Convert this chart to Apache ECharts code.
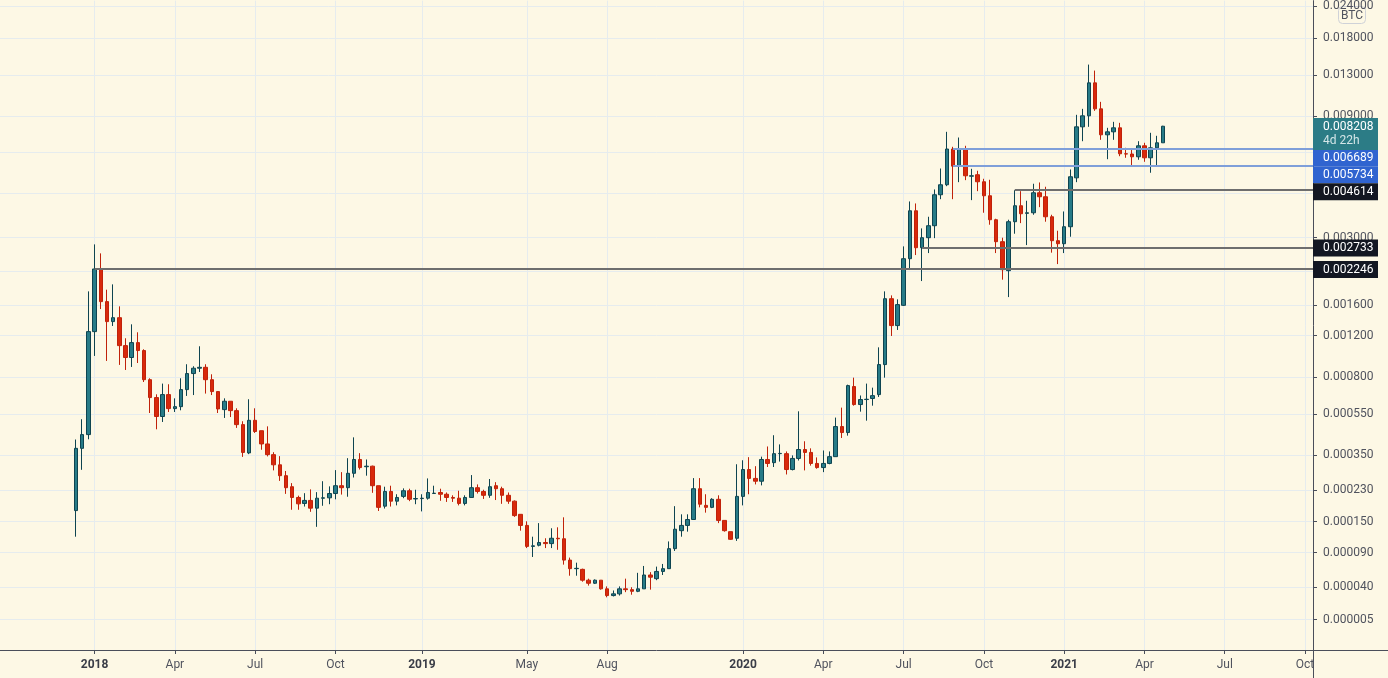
<!DOCTYPE html>
<html>
<head>
<meta charset="utf-8">
<script src="https://cdn.jsdelivr.net/npm/echarts@6/dist/echarts.min.js"></script>
<style>
  html, body { margin: 0; padding: 0; background: #fdf8e5; }
  #chart { width: 1388px; height: 678px; }
</style>
</head>
<body>
<div id="chart"></div>
<script>
// weekly candles, first one starts on this Monday
var firstWeek = '2017-12-11';

var opens = [
  0.000176, 0.000379, 0.000441, 0.001247, 0.002246, 0.001657, 0.001372, 0.001424, 0.00109, 0.000971,
  0.001122, 0.001039, 0.00078, 0.000651, 0.000535, 0.000671, 0.000581, 0.000593, 0.000706, 0.000829,
  0.000874, 0.000882, 0.00078, 0.000692, 0.000575, 0.000627, 0.000569, 0.000491, 0.00036, 0.000514,
  0.00046, 0.000398, 0.000353, 0.000314, 0.000276, 0.000241, 0.00021, 0.000194, 0.000202, 0.000182,
  0.000208, 0.000209, 0.000221, 0.000244, 0.000238, 0.000284, 0.000334, 0.000307, 0.000309, 0.000244,
  0.000187, 0.000227, 0.0002, 0.000213, 0.000229, 0.000206, 0.000207, 0.000208, 0.000221, 0.000224,
  0.000219, 0.00021, 0.000208, 0.000194, 0.00021, 0.000238, 0.000227, 0.000216, 0.000244, 0.000235,
  0.000216, 0.0002, 0.000167, 0.000142, 0.000101, 0.000103, 0.000108, 0.000106, 0.000116, 0.000115,
  0.000078, 0.000065, 0.000064, 0.000049, 0.000045, 0.000049, 0.000038, 0.00003, 0.000032, 0.000038,
  0.000037, 0.000035, 0.000038, 0.000056, 0.000051, 0.000061, 0.000065, 0.000097, 0.000131, 0.000142,
  0.000155, 0.000235, 0.000189, 0.000184, 0.000205, 0.000153, 0.000129, 0.000116, 0.000213, 0.000297,
  0.000267, 0.000258, 0.000334, 0.000322, 0.000357, 0.000357, 0.000297, 0.000338, 0.000374, 0.000362,
  0.000319, 0.000304, 0.000319, 0.000345, 0.000481, 0.000451, 0.000728, 0.000606, 0.000638, 0.000645,
  0.000671, 0.000906, 0.001703, 0.001321, 0.0016, 0.00247, 0.003829, 0.002733, 0.002995, 0.003342,
  0.004428, 0.004847, 0.006689, 0.005734, 0.006702, 0.005237, 0.005307, 0.00498, 0.004388, 0.003529,
  0.002888, 0.002211, 0.003466, 0.004008, 0.00374, 0.00376, 0.004509, 0.004348, 0.003626, 0.002914,
  0.002835, 0.003311, 0.00516, 0.008164, 0.00901, 0.0121, 0.00959, 0.0076, 0.007807, 0.008092,
  0.006409, 0.006395, 0.006238, 0.006886, 0.006182, 0.006763, 0.007075
];
var highs = [
  0.000418, 0.00052, 0.001824, 0.002817, 0.002594, 0.001853, 0.001947, 0.001585, 0.00117, 0.001337,
  0.001239, 0.001052, 0.000791, 0.000673, 0.00075, 0.000745, 0.000646, 0.000791, 0.000909, 0.000891,
  0.001083, 0.000909, 0.000823, 0.000692, 0.000646, 0.000627, 0.000583, 0.000509, 0.00064, 0.000583,
  0.00046, 0.000482, 0.000363, 0.000347, 0.000292, 0.000252, 0.000215, 0.000222, 0.000233, 0.000225,
  0.000258, 0.000242, 0.000295, 0.000288, 0.000339, 0.000428, 0.000359, 0.000334, 0.000311, 0.000244,
  0.000241, 0.000244, 0.000219, 0.000236, 0.000235, 0.000232, 0.000219, 0.000267, 0.000244, 0.000235,
  0.000224, 0.000216, 0.000229, 0.000216, 0.000278, 0.000248, 0.000232, 0.000265, 0.000255, 0.000241,
  0.000224, 0.000202, 0.000167, 0.000151, 0.000119, 0.000147, 0.000116, 0.000136, 0.000138, 0.00016,
  0.000082, 0.000074, 0.000065, 0.000051, 0.00005, 0.000049, 0.000041, 0.000036, 0.000041, 0.000051,
  0.00004, 0.000059, 0.000069, 0.00006, 0.000068, 0.000072, 0.00011, 0.000187, 0.000167, 0.000167,
  0.000268, 0.000268, 0.000219, 0.000208, 0.000216, 0.000153, 0.000129, 0.000316, 0.000331, 0.000343,
  0.000309, 0.000345, 0.000387, 0.000438, 0.000396, 0.000366, 0.00035, 0.000565, 0.00041, 0.000379,
  0.000342, 0.00037, 0.000366, 0.000529, 0.000587, 0.000742, 0.000796, 0.000665, 0.00075, 0.00072,
  0.001072, 0.001824, 0.001757, 0.001693, 0.002766, 0.004167, 0.004092, 0.003261, 0.003626, 0.004646,
  0.005614, 0.007807, 0.006824, 0.007418, 0.006886, 0.005598, 0.005499, 0.005116, 0.00507, 0.003561,
  0.002995, 0.003529, 0.004614, 0.004574, 0.004193, 0.004892, 0.004949, 0.00476, 0.003693, 0.003192,
  0.003805, 0.005564, 0.009091, 0.009591, 0.014243, 0.013501, 0.010211, 0.008092, 0.008538, 0.008463,
  0.006763, 0.006702, 0.007176, 0.007075, 0.007738, 0.007532, 0.008238
];
var lows = [
  0.000119, 0.000296, 0.000419, 0.000986, 0.001545, 0.000939, 0.001316, 0.000903, 0.000859, 0.000885,
  0.00092, 0.000762, 0.000555, 0.000467, 0.000505, 0.000561, 0.000561, 0.000571, 0.000662, 0.000668,
  0.000842, 0.000678, 0.000668, 0.000555, 0.000527, 0.000532, 0.000474, 0.000344, 0.000355, 0.000449,
  0.000373, 0.000346, 0.000294, 0.000259, 0.00022, 0.000178, 0.000178, 0.000186, 0.000173, 0.000139,
  0.000188, 0.000192, 0.000205, 0.000218, 0.000212, 0.00027, 0.000297, 0.000276, 0.000223, 0.000175,
  0.000181, 0.000186, 0.000189, 0.000208, 0.0002, 0.000192, 0.000174, 0.000204, 0.00022, 0.000201,
  0.000198, 0.000198, 0.000189, 0.000189, 0.00021, 0.000221, 0.000206, 0.000209, 0.000203, 0.000193,
  0.000193, 0.000161, 0.000131, 0.000098, 0.000083, 0.000101, 0.000098, 0.000098, 0.000095, 0.000071,
  0.000055, 0.000055, 0.000047, 0.000042, 0.000044, 0.000037, 0.000028, 0.000029, 0.00003, 0.000034,
  0.000031, 0.000034, 0.000038, 0.000037, 0.000049, 0.000056, 0.000065, 0.000093, 0.000119, 0.000129,
  0.000155, 0.000184, 0.000171, 0.000182, 0.000147, 0.000129, 0.000113, 0.000111, 0.000189, 0.000219,
  0.000248, 0.000245, 0.000306, 0.000306, 0.000326, 0.00028, 0.000294, 0.00033, 0.000294, 0.000311,
  0.0003, 0.000288, 0.000316, 0.000345, 0.000425, 0.000436, 0.000599, 0.000563, 0.000512, 0.000599,
  0.000655, 0.000796, 0.001196, 0.001267, 0.00159, 0.002224, 0.002554, 0.002008, 0.002601, 0.002983,
  0.004254, 0.004786, 0.004254, 0.004962, 0.005053, 0.004217, 0.004574, 0.003761, 0.003372, 0.002601,
  0.002034, 0.001729, 0.003106, 0.003422, 0.002799, 0.003693, 0.003957, 0.003466, 0.002611, 0.00235,
  0.002601, 0.003022, 0.004962, 0.007176, 0.008164, 0.009421, 0.007266, 0.006104, 0.007266, 0.006271,
  0.006182, 0.0057, 0.006072, 0.005963, 0.005402, 0.005752, 0.007075
];
var closes = [
  0.000379, 0.000441, 0.001247, 0.002246, 0.001657, 0.001372, 0.001424, 0.00109, 0.000971, 0.001122,
  0.001039, 0.00078, 0.000651, 0.000535, 0.000671, 0.000581, 0.000593, 0.000706, 0.000829, 0.000874,
  0.000882, 0.00078, 0.000692, 0.000579, 0.000627, 0.000569, 0.000491, 0.000362, 0.000514, 0.000456,
  0.000398, 0.000353, 0.000314, 0.000276, 0.000238, 0.00021, 0.000193, 0.000202, 0.000182, 0.000208,
  0.000209, 0.000221, 0.000244, 0.000238, 0.000284, 0.000334, 0.000304, 0.000309, 0.000244, 0.000184,
  0.000227, 0.0002, 0.00021, 0.000229, 0.000205, 0.000207, 0.000208, 0.000224, 0.000222, 0.000219,
  0.00021, 0.000208, 0.000194, 0.00021, 0.000238, 0.000227, 0.000216, 0.000241, 0.000235, 0.000216,
  0.0002, 0.000164, 0.000142, 0.000101, 0.000102, 0.000108, 0.000106, 0.000116, 0.000115, 0.000078,
  0.000065, 0.0000655, 0.000049, 0.000045, 0.000049, 0.000038, 0.00003, 0.000032, 0.000038, 0.000037,
  0.000035, 0.000038, 0.000056, 0.000053, 0.000061, 0.000065, 0.000097, 0.000134, 0.000142, 0.000155,
  0.000235, 0.000192, 0.000184, 0.000205, 0.000153, 0.000131, 0.000114, 0.000213, 0.000297, 0.000267,
  0.000258, 0.000334, 0.000319, 0.000357, 0.000358, 0.000297, 0.000338, 0.000374, 0.000362, 0.000319,
  0.000304, 0.000319, 0.000345, 0.000481, 0.000451, 0.000735, 0.000606, 0.000638, 0.00064, 0.000664,
  0.000906, 0.001703, 0.001321, 0.001611, 0.00247, 0.003829, 0.002733, 0.002995, 0.003342, 0.004428,
  0.004847, 0.006689, 0.005734, 0.006702, 0.005257, 0.005257, 0.00498, 0.004388, 0.003529, 0.002888,
  0.002232, 0.003466, 0.004008, 0.003727, 0.00376, 0.004509, 0.004348, 0.003626, 0.002914, 0.002835,
  0.003311, 0.00521, 0.008164, 0.00901, 0.0121, 0.00959, 0.0076, 0.007807, 0.008092, 0.006409,
  0.006395, 0.006238, 0.006886, 0.006182, 0.006763, 0.007075, 0.008208
];

// price axis ticks
var priceTicks = [0.000005, 0.00004, 0.00009, 0.00015, 0.00023, 0.00035, 0.00055, 0.0008, 0.0012,
  0.0016, 0.0022, 0.003, 0.0045, 0.0065, 0.009, 0.013, 0.018, 0.024];
// time axis ticks (first weekly bar of the month)
var tickDates = ['2018-01-01', '2018-04-02', '2018-07-02', '2018-10-01', '2019-01-07', '2019-05-06',
  '2019-08-05', '2020-01-06', '2020-04-06', '2020-07-06', '2020-10-05', '2021-01-04', '2021-04-05',
  '2021-07-05', '2021-10-04'];
var tickLabels = ['2018', 'Apr', 'Jul', 'Oct', '2019', 'May', 'Aug', '2020', 'Apr', 'Jul', 'Oct',
  '2021', 'Apr', 'Jul', 'Oct'];

// horizontal levels drawn on the chart
var levelPrices = [0.006689, 0.005734, 0.004614, 0.002733, 0.002246];
var levelStarts = ['2020-08-31', '2020-08-31', '2020-11-09', '2020-07-27', '2018-01-01'];
var lastPrice = 0.008208;
var lastCountdown = '4d 22h';

// --- styling / layout ---
var levelLineColors = ['#7f9fd9', '#7f9fd9', '#6e6e6e', '#6e6e6e', '#6e6e6e'];
var levelBoxColors = ['#3064d0', '#3064d0', '#131722', '#131722', '#131722'];
var levelLabelNudge = [9.3, 9.1, 1.4, 0, 0.7];   // px downwards, labels pushed apart like the original
var lastLabelNudge = 8;

var WEEK = 7 * 24 * 3600 * 1000;
var BASE = Date.UTC(2018, 0, 1);
function weekOf(d) { return Math.round((Date.parse(d) - BASE) / WEEK); }

var SHIFT = 0.0001;          // log(price + shift) scale, like the source chart
function toAxis(p) { return Math.log(p + SHIFT); }
function fromAxis(v) { return Math.exp(v) - SHIFT; }

var Y_MIN = -9.43009, Y_MAX = -3.67788;
var X_MIN = -15.315, X_MAX = 197.29;
var PLOT_H = 650;
var PX_PER_UNIT = PLOT_H / (Y_MAX - Y_MIN);

var w0 = weekOf(firstWeek);
var candles = closes.map(function (c, i) {
  return [w0 + i, toAxis(opens[i]), toAxis(c), toAxis(lows[i]), toAxis(highs[i])];
});

var tickWeeks = tickDates.map(weekOf);
var labelOf = {};
tickWeeks.forEach(function (w, i) { labelOf[w] = tickLabels[i]; });

var FONT = 'Roboto, "Liberation Sans", sans-serif';
var NO_LINE = { color: 'rgba(0,0,0,0)', width: 1, type: 'solid' };
var boxLabel = {
  show: true, position: 'end', distance: 0, align: 'left',
  color: '#ffffff', fontSize: 12, fontFamily: FONT, lineHeight: 13,
  padding: [2, 7, 2, 10], width: 48
};

var markData = [];
levelPrices.forEach(function (p, k) {
  markData.push([
    { coord: [weekOf(levelStarts[k]), toAxis(p)], lineStyle: { color: levelLineColors[k], width: 2, type: 'solid' } },
    { coord: [X_MAX, toAxis(p)] }
  ]);
});
levelPrices.forEach(function (p, k) {
  markData.push({
    yAxis: toAxis(p) - levelLabelNudge[k] / PX_PER_UNIT,
    lineStyle: NO_LINE,
    label: Object.assign({}, boxLabel, { formatter: p.toFixed(6), backgroundColor: levelBoxColors[k] })
  });
});
markData.push({
  yAxis: toAxis(lastPrice) - lastLabelNudge / PX_PER_UNIT,
  lineStyle: NO_LINE,
  label: Object.assign({}, boxLabel, {
    formatter: '{a|' + lastPrice.toFixed(6) + '}\n{b|' + lastCountdown + '}',
    backgroundColor: '#2c7c86',
    rich: {
      a: { color: '#ffffff', fontSize: 12, fontFamily: FONT, lineHeight: 14 },
      b: { color: '#d4e6e8', fontSize: 12, fontFamily: FONT, lineHeight: 14 }
    }
  })
});

var chart = echarts.init(document.getElementById('chart'), null, { renderer: 'canvas' });
chart.setOption({
  animation: false,
  backgroundColor: '#fdf8e5',
  grid: { left: 0, right: 75, top: 0, bottom: 28, containLabel: false },
  xAxis: {
    type: 'value', min: X_MIN, max: X_MAX,
    axisLine: { show: true, onZero: false, lineStyle: { color: '#4a4e5a', width: 1 } },
    axisTick: { show: true, length: 4, customValues: tickWeeks, lineStyle: { color: '#4a4e5a' } },
    axisLabel: {
      customValues: tickWeeks, margin: 9, color: '#50535e', fontSize: 12, fontFamily: FONT,
      formatter: function (v) {
        var t = labelOf[Math.round(v)] || '';
        return /^\d{4}$/.test(t) ? '{y|' + t + '}' : t;
      },
      rich: { y: { fontWeight: 'bold', color: '#3a3d47', fontSize: 12, fontFamily: FONT } }
    },
    splitLine: { show: true, lineStyle: { color: '#e6ecee', width: 1 } }
  },
  yAxis: {
    type: 'value', position: 'right', min: Y_MIN, max: Y_MAX,
    axisLine: { show: true, onZero: false, lineStyle: { color: '#4a4e5a', width: 1 } },
    axisTick: { show: true, length: 4, customValues: priceTicks.map(toAxis), lineStyle: { color: '#4a4e5a' } },
    axisLabel: {
      customValues: priceTicks.map(toAxis), margin: 10, color: '#50535e', fontSize: 12, fontFamily: FONT,
      formatter: function (v) { return fromAxis(v).toFixed(6); }
    },
    splitLine: { show: true, lineStyle: { color: '#e6ecee', width: 1 } }
  },
  series: [{
    type: 'candlestick',
    data: candles,
    encode: { x: 0, y: [1, 2, 3, 4] },
    barWidth: 4,
    itemStyle: {
      color: '#277b87', color0: '#d8290b',
      borderColor: '#0e4450', borderColor0: '#c0220a', borderWidth: 1
    },
    markLine: {
      silent: true, symbol: 'none', animation: false, z: 10,
      label: { show: false },
      data: markData
    }
  }],
  graphic: [
    { type: 'line', shape: { x1: 1313, y1: 650.5, x2: 1388, y2: 650.5 }, style: { stroke: '#4a4e5a', lineWidth: 1 }, z: 50 },
    { type: 'line', shape: { x1: 1313.5, y1: 650, x2: 1313.5, y2: 678 }, style: { stroke: '#4a4e5a', lineWidth: 1 }, z: 50 },
    {
      type: 'group', left: 1338, top: 6, z: 100,
      children: [
        { type: 'rect', shape: { x: 0, y: 0, width: 27, height: 17, r: 4 }, style: { fill: '#fdf8e5', stroke: '#cfd2d8', lineWidth: 1 } },
        { type: 'text', x: 13.5, y: 9, style: { text: 'BTC', fill: '#50535e', font: '12px ' + FONT, align: 'center', verticalAlign: 'middle' } }
      ]
    }
  ]
});
</script>
</body>
</html>
